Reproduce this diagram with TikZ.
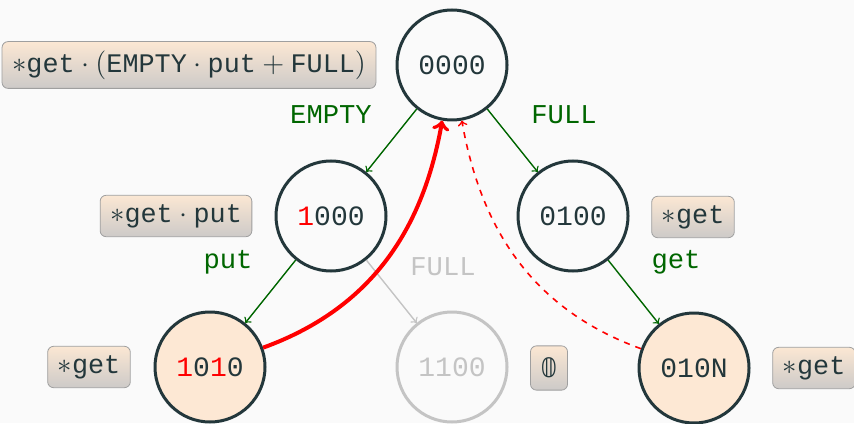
\documentclass[tikz,border=0pt]{standalone}
\usepackage{fontspec}
\setmainfont{Fira Sans}
\newfontfamily\statefont{Liberation Mono}
\newfontfamily\symfont{DejaVu Sans}
\definecolor{mDark}{HTML}{23373B}
\definecolor{mBg}{HTML}{FAFAFA}
\definecolor{stfill}{HTML}{FDE8D4}
\definecolor{boxtop}{HTML}{FBE7D3}
\definecolor{boxbot}{HTML}{CDCAC8}
\definecolor{lblgreen}{HTML}{006600}
\definecolor{fadegray}{HTML}{C4C4C4}
\tikzset{
 state/.style={circle,draw=mDark,line width=1.5pt,minimum size=55pt,inner sep=0pt,text=mDark,font=\statefont\fontsize{14}{16}\selectfont},
 accept/.style={state,fill=stfill},
 faded/.style={state,draw=fadegray,text=fadegray},
 rexp/.style={draw=gray!75,rounded corners=3pt,top color=boxtop,bottom color=boxbot,text=mDark,inner xsep=5pt,inner ysep=4.5pt,font=\statefont\fontsize{13.4}{15}\selectfont},
 trans/.style={->,draw=lblgreen,line width=0.7pt},
 lbl/.style={text=lblgreen,font=\statefont\fontsize{13.6}{16}\selectfont},
}
\begin{document}
\begin{tikzpicture}[x=0.5pt,y=0.5pt]
\fill[mBg](0,0)rectangle(854,423);
\useasboundingbox(0,0)rectangle(854,423);
% states
\node[state](s0000)at(452,358){0000};
\node[state](s1000)at(331,207){\textcolor{red}{1}000};
\node[state](s0100)at(573,207){0100};
\node[accept](s1010)at(210,56){\textcolor{red}{1}0\textcolor{red}{1}0};
\node[faded](s1100)at(452,56){1100};
\node[accept](s010N)at(694,55){010N};
% residual expressions
\node[rexp](r0000)at(189,358){$\ast\mbox{get}\cdot(\mbox{EMPTY}\cdot\mbox{put}+\mbox{FULL})$};
\node[rexp](r1000)at(176,207){$\ast\mbox{get}\cdot\mbox{put}$};
\node[rexp](r0100)at(693,206){$\ast\mbox{get}$};
\node[rexp](r1010)at(89,56){$\ast\mbox{get}$};
\node[rexp,inner ysep=6pt](r1100)at(549,55){\symfont 𝟘};
\node[rexp](r010N)at(814,55){$\ast\mbox{get}$};
% transitions
\draw[trans](s0000)--(s1000);
\draw[trans](s0000)--(s0100);
\draw[trans](s1000)--(s1010);
\draw[trans](s0100)--(s010N);
\draw[trans,draw=fadegray](s1000)--(s1100);
\draw[red,line width=2pt,->](s1010)to[out=20,in=-100](s0000);
\draw[red,dashed,line width=0.8pt,->](s010N)to[out=160,in=-80](s0000);
% labels
\node[lbl](lEmpty)at(331,308){EMPTY};
\node[lbl](lFull)at(564,308){FULL};
\node[lbl](lPut)at(228,161){put};
\node[lbl](lGet)at(676,161){get};
\node[lbl,text=fadegray](lFull2)at(443,156){FULL};
\end{tikzpicture}
\end{document}
